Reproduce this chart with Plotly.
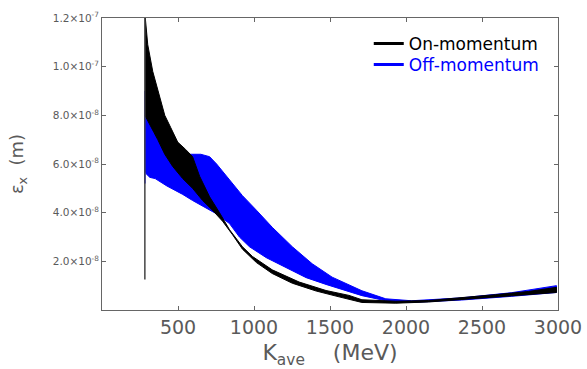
import plotly.graph_objects as go

# ---- data ----
# On-momentum band (black): upper / lower envelope of the noisy trace
on_x_up = [282, 301, 334, 367, 413, 452, 498, 550, 596, 642, 708, 773, 839, 924, 990,
           1120, 1297, 1474, 1625, 1710, 1933, 2149, 2366, 2588, 2805, 2990]
on_y_up = [1.22e-7, 1.09e-7, 9.8e-8, 9.0e-8, 8.0e-8, 7.5e-8, 6.9e-8, 6.6e-8, 6.3e-8, 5.5e-8,
           4.65e-8, 4.0e-8, 3.3e-8, 2.6e-8, 2.2e-8, 1.65e-8, 1.15e-8, 8.0e-9, 6.0e-9, 4.2e-9,
           3.6e-9, 3.9e-9, 5.0e-9, 6.3e-9, 7.6e-9, 9.3e-9]
on_x_lo = [282, 301, 334, 367, 413, 465, 531, 596, 662, 727, 793, 858, 924, 1016, 1120,
           1252, 1409, 1560, 1710, 1933, 2149, 2366, 2588, 2805, 2990]
on_y_lo = [8.0e-8, 7.8e-8, 7.4e-8, 7.0e-8, 6.4e-8, 5.9e-8, 5.4e-8, 5.0e-8, 4.5e-8, 4.1e-8,
           3.65e-8, 3.1e-8, 2.5e-8, 1.95e-8, 1.5e-8, 1.1e-8, 7.8e-9, 5.4e-9, 3.1e-9, 2.8e-9,
           3.3e-9, 4.1e-9, 5.2e-9, 6.3e-9, 7.2e-9]
on_spike_x = [282, 282]
on_spike_y = [1.25e-8, 1.2e-7]

# Off-momentum band (blue)
off_x_up = [282, 295, 315, 340, 400, 480, 577, 650, 708, 754, 839, 924, 1016, 1120, 1252,
            1383, 1514, 1625, 1710, 1867, 2037, 2366, 2693, 2990]
off_y_up = [9.0e-8, 8.5e-8, 7.9e-8, 7.3e-8, 6.8e-8, 6.5e-8, 6.4e-8, 6.4e-8, 6.3e-8, 6.0e-8,
            5.35e-8, 4.7e-8, 4.1e-8, 3.4e-8, 2.6e-8, 1.9e-8, 1.35e-8, 1.05e-8, 7.9e-9, 4.6e-9,
            3.8e-9, 5.0e-9, 7.1e-9, 1.0e-8]
off_x_lo = [282, 290, 315, 350, 426, 531, 596, 754, 839, 904, 970, 1081, 1212, 1343, 1474,
            1625, 1710, 1867, 2037, 2366, 2693, 2990]
off_y_lo = [5.8e-8, 5.6e-8, 5.45e-8, 5.4e-8, 5.1e-8, 4.75e-8, 4.5e-8, 3.95e-8, 3.55e-8, 3.0e-8,
            2.6e-8, 2.15e-8, 1.74e-8, 1.33e-8, 1.05e-8, 7.5e-9, 5.9e-9, 3.8e-9, 3.1e-9, 4.1e-9,
            5.6e-9, 7.2e-9]
off_spike_x = [282, 282]
off_spike_y = [5.2e-8, 9.0e-8]

y_tickvals = [2.0e-8, 4.0e-8, 6.0e-8, 8.0e-8, 1.0e-7, 1.2e-7]
y_ticktext = ["2.0×10<sup>-8</sup>", "4.0×10<sup>-8</sup>", "6.0×10<sup>-8</sup>",
              "8.0×10<sup>-8</sup>", "1.0×10<sup>-7</sup>", "1.2×10<sup>-7</sup>"]
x_tickvals = [500, 1000, 1500, 2000, 2500, 3000]

BLUE = "#0000ff"
BLACK = "#000000"
GRAY = "#5a5a5a"

fig = go.Figure()

def band(xu, yu, xl, yl, color):
    return go.Scatter(x=list(xu) + list(xl)[::-1], y=list(yu) + list(yl)[::-1],
                      fill="toself", fillcolor=color, mode="lines",
                      line=dict(color=color, width=1), showlegend=False, hoverinfo="skip")

fig.add_trace(band(off_x_up, off_y_up, off_x_lo, off_y_lo, BLUE))
fig.add_trace(go.Scatter(x=off_spike_x, y=off_spike_y, mode="lines",
                         line=dict(color=BLUE, width=1.5), showlegend=False))
fig.add_trace(band(on_x_up, on_y_up, on_x_lo, on_y_lo, BLACK))
fig.add_trace(go.Scatter(x=on_spike_x, y=on_spike_y, mode="lines",
                         line=dict(color="#444444", width=1.5), showlegend=False))

# legend entries (one legend each, to control row spacing)
fig.add_trace(go.Scatter(x=[None], y=[None], mode="lines", line=dict(color=BLACK, width=3),
                         name="On-momentum", legend="legend"))
fig.add_trace(go.Scatter(x=[None], y=[None], mode="lines", line=dict(color=BLUE, width=3),
                         name="Off-momentum", legend="legend2"))

axis_common = dict(showline=True, linecolor="#666666", linewidth=1, mirror="ticks",
                   ticks="inside", ticklen=4, tickcolor="#666666", showgrid=False,
                   zeroline=False, automargin=False)

leg_common = dict(xanchor="left", yanchor="middle", bgcolor="rgba(255,255,255,0)",
                  itemwidth=30)

fig.update_layout(
    width=587, height=369,
    margin=dict(l=102, r=29, t=18, b=59, autoexpand=False),
    paper_bgcolor="white", plot_bgcolor="white",
    font=dict(family="DejaVu Sans", color=GRAY),
    xaxis=dict(range=[0, 3000], tickvals=x_tickvals,
               tickfont=dict(size=19, color=GRAY),
               title=dict(text="K<sub>ave</sub>    (MeV)", font=dict(size=22, color=GRAY),
                          standoff=15),
               **axis_common),
    yaxis=dict(range=[0, 1.2e-7], tickvals=y_tickvals, ticktext=y_ticktext,
               tickfont=dict(size=10.5, color=GRAY),
               title=dict(text="ε<sub>x</sub>  (m)", font=dict(size=18, color=GRAY),
                          standoff=24),
               **axis_common),
    legend=dict(x=0.585, y=0.911, font=dict(size=17, color=BLACK), **leg_common),
    legend2=dict(x=0.585, y=0.839, font=dict(size=17, color=BLUE), **leg_common),
    showlegend=True,
)

fig.write_html("out.html")
